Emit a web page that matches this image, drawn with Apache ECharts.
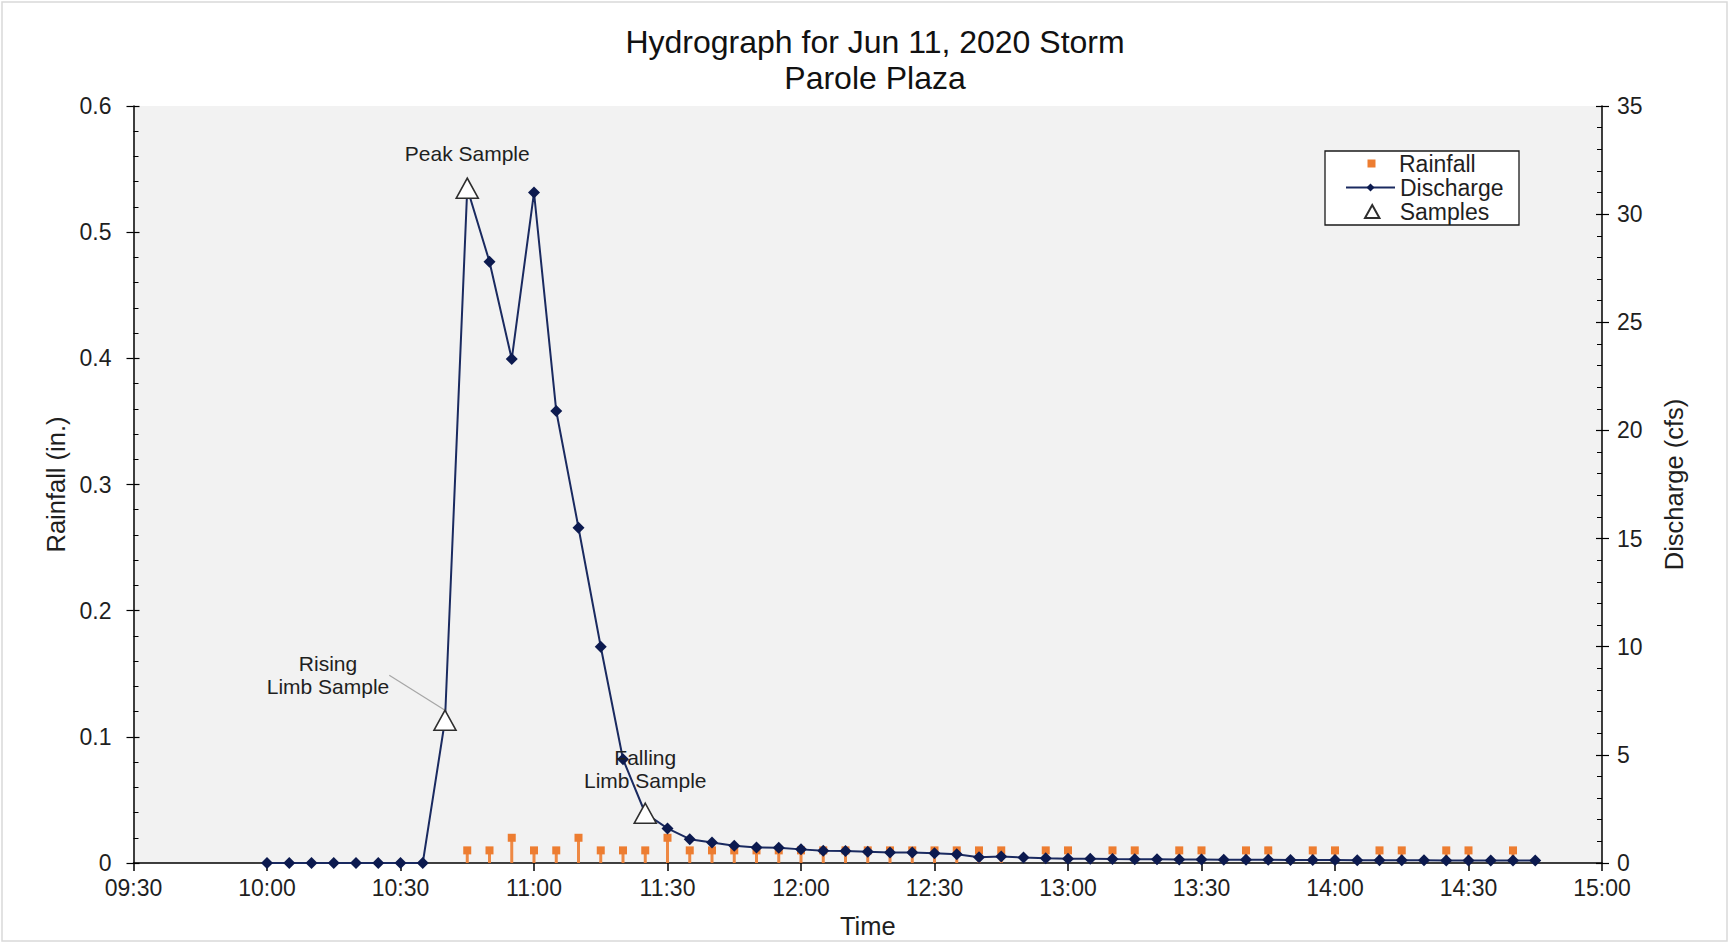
<!DOCTYPE html>
<html>
<head>
<meta charset="utf-8">
<script src="https://cdn.jsdelivr.net/npm/echarts@6/dist/echarts.min.js"></script>
<style>
html,body{margin:0;padding:0;background:#fff;}
#chart{width:1730px;height:944px;}
</style>
</head>
<body>
<div id="chart"></div>
<script>
// ---------- data ----------
const dischargeTimes = [
  '10:00','10:05','10:10','10:15','10:20','10:25','10:30','10:35','10:40','10:45','10:50','10:55',
  '11:00','11:05','11:10','11:15','11:20','11:25','11:30','11:35','11:40','11:45','11:50','11:55',
  '12:00','12:05','12:10','12:15','12:20','12:25','12:30','12:35','12:40','12:45','12:50','12:55',
  '13:00','13:05','13:10','13:15','13:20','13:25','13:30','13:35','13:40','13:45','13:50','13:55',
  '14:00','14:05','14:10','14:15','14:20','14:25','14:30','14:35','14:40','14:45'
];
const dischargeCfs = [
  0, 0, 0, 0, 0, 0, 0, 0, 6.6, 31.2, 27.8, 23.3,
  31.0, 20.9, 15.5, 10.0, 4.8, 2.3, 1.6, 1.1, 0.95, 0.8, 0.72, 0.7,
  0.63, 0.57, 0.55, 0.52, 0.49, 0.48, 0.45, 0.40, 0.27, 0.30, 0.25, 0.22,
  0.20, 0.20, 0.18, 0.17, 0.17, 0.16, 0.16, 0.15, 0.15, 0.15, 0.14, 0.14,
  0.14, 0.13, 0.13, 0.13, 0.13, 0.12, 0.12, 0.12, 0.12, 0.11
];
const rainTimes = [
  '10:45','10:50','10:55','11:00','11:05','11:10','11:15','11:20','11:25','11:30','11:35','11:40','11:45','11:50','11:55',
  '12:00','12:05','12:10','12:15','12:20','12:25','12:30','12:35','12:40','12:45','12:55',
  '13:00','13:10','13:15','13:25','13:30','13:40','13:45','13:55',
  '14:00','14:10','14:15','14:25','14:30','14:40'
];
const rainInches = [
  0.01, 0.01, 0.02, 0.01, 0.01, 0.02, 0.01, 0.01, 0.01, 0.02, 0.01, 0.01, 0.01, 0.01, 0.01,
  0.01, 0.01, 0.01, 0.01, 0.01, 0.01, 0.01, 0.01, 0.01, 0.01, 0.01,
  0.01, 0.01, 0.01, 0.01, 0.01, 0.01, 0.01, 0.01,
  0.01, 0.01, 0.01, 0.01, 0.01, 0.01
];
const sampleTimes = ['10:40', '10:45', '11:25'];
const sampleCfs = [6.6, 31.2, 2.3];
const sampleLabels = ['Rising\nLimb Sample', 'Peak Sample', 'Falling\nLimb Sample'];

const timeAxis = { min: '09:30', max: '15:00', stepMinutes: 30 };
const rainAxis = { min: 0, max: 0.6, interval: 0.1 };
const flowAxis = { min: 0, max: 35, interval: 5 };

const titleLines = ['Hydrograph for Jun 11, 2020 Storm', 'Parole Plaza'];

// ---------- helpers ----------
function toMin(t) { const p = t.split(':'); return (+p[0]) * 60 + (+p[1]); }
function fmtTime(v) {
  const h = Math.floor(v / 60), m = Math.round(v % 60);
  return String(h).padStart(2, '0') + ':' + String(m).padStart(2, '0');
}

const FONT = 'Liberation Sans, Arial, sans-serif';
const TXT = '#1f1f1f';
const ORANGE = '#ED7D31';
const NAVY = '#1a2a60';
const NAVY_DARK = '#0c1a4f';
const TICK_FS = 23;
const NAME_FS = 25.5;
const LEG_FS = 23;

const chart = echarts.init(document.getElementById('chart'), null, { renderer: 'svg' });

const ovl = (pos, ax, minorSplit) => ({
  type: 'value', position: pos, min: ax.min, max: ax.max, interval: ax.interval,
  axisLine: { show: false }, axisLabel: { show: false }, splitLine: { show: false },
  axisTick: { show: true, inside: true, length: 6, lineStyle: { color: '#000', width: 1.2 } },
  minorTick: { show: true, splitNumber: minorSplit, length: 5, lineStyle: { color: '#000', width: 1 } }
});

const option = {
  backgroundColor: '#ffffff',
  animation: false,
  textStyle: { fontFamily: FONT },
  title: {
    text: titleLines.join('\n'),
    left: 870, textAlign: 'center', top: 19,
    textStyle: { fontFamily: FONT, fontSize: 32, fontWeight: 'normal', color: '#111', lineHeight: 36 }
  },
  graphic: [
    { type: 'rect', shape: { x: 2, y: 2, width: 1725, height: 939 }, style: { fill: 'none', stroke: '#d9d9d9', lineWidth: 1.5 }, silent: true, z: -10 },
    { type: 'rect', shape: { x: 1325, y: 151, width: 194, height: 74 }, style: { fill: '#ffffff', stroke: '#1a1a1a', lineWidth: 1.3 }, silent: true, z: 50 }
  ],
  legend: [
    {
      data: [{ name: 'Rainfall', icon: 'rect' }],
      left: 1367.5, top: 152, padding: 0, itemWidth: 8, itemHeight: 8, selectedMode: false, z: 60,
      textStyle: { fontFamily: FONT, fontSize: LEG_FS, color: TXT, padding: [0, 0, 0, 18.5] }
    },
    {
      data: ['Discharge'],
      left: 1345, top: 176, padding: 0, itemWidth: 49, itemHeight: 10, selectedMode: false, z: 60,
      textStyle: { fontFamily: FONT, fontSize: LEG_FS, color: TXT }
    },
    {
      data: [{ name: 'Samples', icon: 'path://M5,0L10,9L0,9Z' }],
      left: 1364, top: 200, padding: 0, itemWidth: 15, itemHeight: 13, selectedMode: false, z: 60,
      textStyle: { fontFamily: FONT, fontSize: LEG_FS, color: TXT, padding: [0, 0, 0, 15] }
    }
  ],
  grid: {
    left: 133.5, right: 128, top: 106, bottom: 81,
    show: true, backgroundColor: '#f2f2f2', borderWidth: 0
  },
  xAxis: {
    type: 'value', min: toMin(timeAxis.min), max: toMin(timeAxis.max), interval: timeAxis.stepMinutes,
    name: 'Time', nameLocation: 'middle', nameGap: 50,
    nameTextStyle: { fontFamily: FONT, fontSize: NAME_FS, color: TXT },
    axisLine: { show: true, lineStyle: { color: '#000', width: 1.5 } },
    axisTick: { show: true, inside: false, length: 8, lineStyle: { color: '#000', width: 1.5 } },
    axisLabel: { formatter: fmtTime, fontFamily: FONT, fontSize: TICK_FS, color: TXT, margin: 13 },
    splitLine: { show: false }
  },
  yAxis: [
    {
      type: 'value', position: 'left', min: rainAxis.min, max: rainAxis.max, interval: rainAxis.interval,
      name: 'Rainfall (in.)', nameLocation: 'middle', nameGap: 64, nameRotate: 90,
      nameTextStyle: { fontFamily: FONT, fontSize: NAME_FS, color: TXT },
      axisLine: { show: true, lineStyle: { color: '#000', width: 1.5 } },
      axisTick: { show: true, inside: false, length: 7, lineStyle: { color: '#000', width: 1.2 } },
      axisLabel: { fontFamily: FONT, fontSize: TICK_FS, color: TXT, margin: 22 },
      splitLine: { show: false }
    },
    {
      type: 'value', position: 'right', min: flowAxis.min, max: flowAxis.max, interval: flowAxis.interval,
      name: 'Discharge (cfs)', nameLocation: 'middle', nameGap: 59, nameRotate: 90,
      nameTextStyle: { fontFamily: FONT, fontSize: NAME_FS, color: TXT },
      axisLine: { show: true, lineStyle: { color: '#000', width: 1.5 } },
      axisTick: { show: true, inside: false, length: 7, lineStyle: { color: '#000', width: 1.2 } },
      axisLabel: { fontFamily: FONT, fontSize: TICK_FS, color: TXT, margin: 15 },
      splitLine: { show: false }
    },
    ovl('left', rainAxis, 5),
    ovl('right', flowAxis, 5)
  ],
  series: [
    {
      type: 'bar', name: 'rain-stem', yAxisIndex: 0, barWidth: 3, silent: true, z: 2,
      itemStyle: { color: ORANGE, opacity: 0.9 },
      data: rainTimes.map((t, i) => [toMin(t), rainInches[i]])
    },
    {
      type: 'scatter', name: 'Rainfall', yAxisIndex: 0, symbol: 'rect', symbolSize: 8, z: 3,
      itemStyle: { color: ORANGE, opacity: 1 },
      data: rainTimes.map((t, i) => [toMin(t), rainInches[i]])
    },
    {
      type: 'line', name: 'Discharge', yAxisIndex: 1, symbol: 'diamond', symbolSize: 12, showAllSymbol: true, z: 4,
      lineStyle: { color: NAVY, width: 2 },
      itemStyle: { color: NAVY_DARK },
      data: dischargeTimes.map((t, i) => [toMin(t), dischargeCfs[i]])
    },
    {
      type: 'scatter', name: 'Samples', yAxisIndex: 1, symbol: 'triangle', symbolSize: [22, 20], z: 5,
      itemStyle: { color: '#ffffff', borderColor: '#2e2e2e', borderWidth: 1.6, opacity: 1 },
      label: {
        show: true, fontFamily: FONT, fontSize: 21, color: TXT, lineHeight: 23, align: 'center',
        formatter: p => sampleLabels[p.dataIndex]
      },
      labelLayout: p => (p.dataIndex === 0 ? { dx: -117, dy: -45 } : {}),
      data: sampleTimes.map((t, i) => {
        const item = { value: [toMin(t), sampleCfs[i]] };
        if (i === 0) {
          item.label = { position: 'inside' };
          item.labelLine = { show: true, smooth: 0.3, lineStyle: { color: '#a6a6a6', width: 1.2 } };
        } else if (i === 1) {
          item.label = { position: 'top', distance: 12 };
        } else {
          item.label = { position: 'top', distance: 10 };
        }
        return item;
      })
    }
  ]
};
chart.setOption(option);
</script>
</body>
</html>
